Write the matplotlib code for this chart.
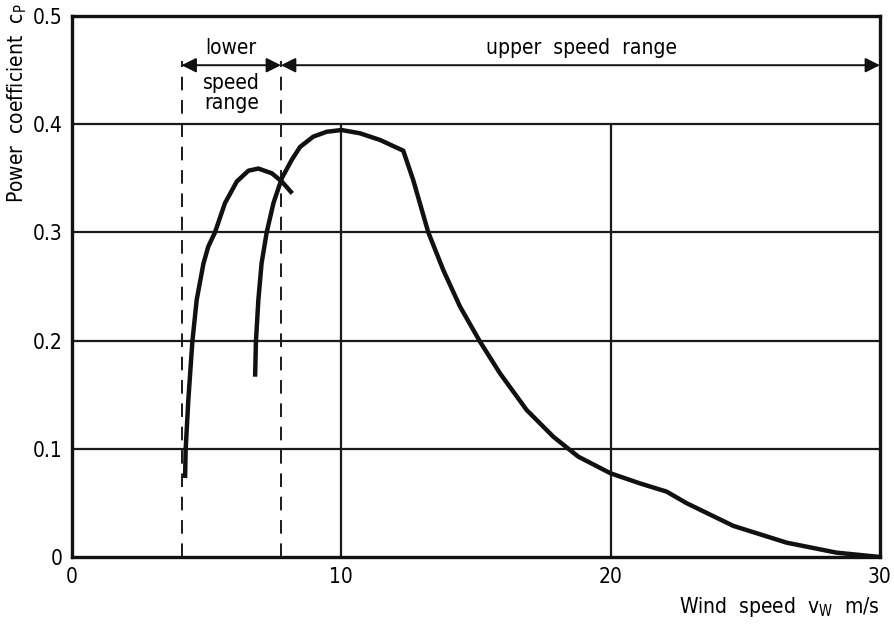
import numpy as np
import matplotlib
matplotlib.use('Agg')
import matplotlib.pyplot as plt

plt.rcParams['font.family'] = ['DejaVu Sans']
plt.rcParams['font.stretch'] = 'condensed'
plt.rcParams['mathtext.default'] = 'regular'

# lower speed range curve (wind speed m/s, cp)
v_low = [4.20, 4.22, 4.32, 4.47, 4.63, 4.88, 5.06, 5.31, 5.68, 6.12, 6.55,
         6.92, 7.42, 7.79, 8.18]
cp_low = [0.073, 0.099, 0.145, 0.199, 0.2375, 0.271, 0.2868, 0.300, 0.327, 0.347, 0.357,
          0.359, 0.3546, 0.347, 0.336]

# upper speed range curve
v_up = [6.80, 6.83, 6.92, 7.04, 7.23, 7.48, 7.79, 8.16, 8.47, 8.96,
        9.46, 10.01, 10.69, 11.44, 12.30, 12.67, 13.23, 13.79, 14.41, 15.15,
        15.89, 16.88, 17.87, 18.8, 20.0, 21.09, 22.08, 22.83, 24.56, 26.54,
        28.39, 30.0]
cp_up = [0.1666, 0.199, 0.2375, 0.2714, 0.300, 0.327, 0.350, 0.367, 0.379, 0.3885,
         0.393, 0.3946, 0.3916, 0.3854, 0.3755, 0.3484, 0.300, 0.265, 0.2313, 0.199,
         0.1698, 0.1359, 0.1112, 0.0927, 0.0773, 0.068, 0.0604, 0.0496, 0.0287, 0.0132,
         0.004, 0.0]

# speed range boundaries
v_bounds = [4.07, 7.76, 30.0]
x_ticks = [0, 10, 20, 30]
y_ticks = [0, 0.1, 0.2, 0.3, 0.4, 0.5]
y_ticklabels = ['0', '0.1', '0.2', '0.3', '0.4', '0.5']

fig = plt.figure(figsize=(8.94, 6.24), dpi=100)
ax = fig.add_axes([0.0805, 0.1074, 0.9038, 0.867])

ax.set_xlim(0, 30)
ax.set_ylim(0, 0.5)

# grid
for yv in y_ticks[1:-1]:
    ax.axhline(yv, color='#1a1a1a', lw=1.6, zorder=1)
ax.vlines(x_ticks[1:-1], 0, 0.4, color='#1a1a1a', lw=1.6, zorder=1)

# dashed range boundaries
ax.vlines(v_bounds[:2], 0, 0.458, color='#1a1a1a', lw=1.4,
          linestyles=(0, (7, 5)), zorder=1)

# range arrows
arr = dict(arrowstyle='<|-|>', color='#111111', lw=1.4, mutation_scale=22,
           shrinkA=0, shrinkB=0)
ax.annotate('', xy=(v_bounds[0], 0.4545), xytext=(v_bounds[1], 0.4545), arrowprops=arr)
ax.annotate('', xy=(v_bounds[1], 0.4545), xytext=(v_bounds[2], 0.4545), arrowprops=arr)

fs = 15
xc = (v_bounds[0] + v_bounds[1]) / 2
ax.text(xc, 0.470, 'lower', ha='center', va='center', fontsize=fs)
ax.text(xc, 0.4385, 'speed', ha='center', va='center', fontsize=fs)
ax.text(xc, 0.420, 'range', ha='center', va='center', fontsize=fs)
ax.text(18.9, 0.470, 'upper  speed  range', ha='center', va='center', fontsize=fs)

# curves
ax.plot(v_low, cp_low, color='#111111', lw=3.2, solid_capstyle='butt',
        solid_joinstyle='round', zorder=3)
ax.plot(v_up, cp_up, color='#111111', lw=3.2, solid_capstyle='butt',
        solid_joinstyle='round', zorder=3)

ax.set_xticks(x_ticks)
ax.set_yticks(y_ticks)
ax.set_yticklabels(y_ticklabels)
ax.tick_params(length=0, labelsize=fs, pad=7)

for s in ax.spines.values():
    s.set_linewidth(2.4)
    s.set_color('#111111')

fig.text(0.006, 0.995, 'Power  coefficient  c$_P$', rotation=90, ha='left', va='top', fontsize=fs)
fig.text(0.984, 0.008, 'Wind  speed  v$_W$  m/s', ha='right', va='bottom', fontsize=fs)

fig.savefig('out.png', dpi=100)
